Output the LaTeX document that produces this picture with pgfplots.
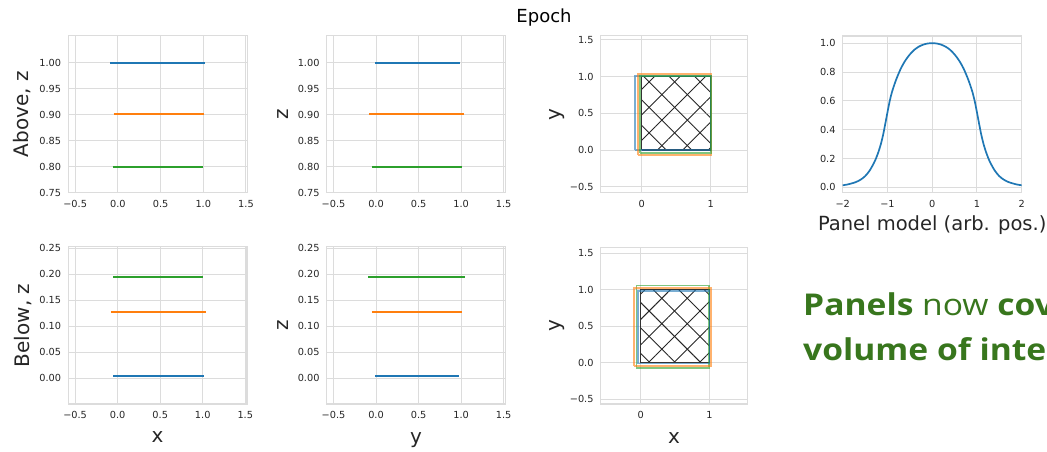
\documentclass[border=0pt]{standalone}
\usepackage{fontspec}
\setmainfont{DejaVu Sans}
\newfontfamily\slidefont[FakeStretch=1.12]{Open Sans}
\usepackage{pgfplots}
\pgfplotsset{compat=1.18}
\usetikzlibrary{patterns.meta}

\definecolor{tabblue}{HTML}{1F77B4}
\definecolor{taborange}{HTML}{FF7F0E}
\definecolor{tabgreen}{HTML}{2CA02C}
\definecolor{gridgray}{HTML}{DCDCDC}
\definecolor{labgray}{HTML}{262626}
\definecolor{slidegreen}{HTML}{38761D}

\pgfplotsset{
  panel/.style={
    scale only axis,
    anchor=south west,
    axis line style={draw=gridgray, line width=1.1pt},
    grid=major,
    major grid style={draw=gridgray, line width=1pt},
    major tick length=0pt,
    tick style={draw=none},
    ticklabel style={font=\fontsize{9.75}{11}\selectfont, text=labgray},
    xticklabel style={inner sep=0pt, anchor=north, yshift=-7pt},
    yticklabel style={inner sep=0pt, anchor=east, xshift=-7pt},
    label style={font=\fontsize{20}{24}\selectfont, text=labgray},
  },
  seg/.style={line width=2pt, no marks},
  linepanel/.style={
    panel,
    xmin=-0.58, xmax=1.52,
    xtick={-0.5,0,0.5,1,1.5},
    xticklabels={−0.5,0.0,0.5,1.0,1.5},
  },
  toppanel/.style={
    ymin=0.75, ymax=1.052,
    ytick={0.75,0.8,0.85,0.9,0.95,1.0},
    yticklabels={0.75,0.80,0.85,0.90,0.95,1.00},
  },
  botpanel/.style={
    ymin=-0.05, ymax=0.253,
    ytick={0,0.05,0.1,0.15,0.2,0.25},
    yticklabels={0.00,0.05,0.10,0.15,0.20,0.25},
  },
  sqpanel/.style={
    panel,
    xtick={0,1}, xticklabels={0,1},
    ytick={-0.5,0,0.5,1,1.5},
    yticklabels={−0.5,0.0,0.5,1.0,1.5},
  },
  rect/.style={line width=1.6pt, opacity=0.6, no marks},
}

\begin{document}
\begin{tikzpicture}
\useasboundingbox (0pt,0pt) rectangle (1047pt,451pt);
\clip (0pt,0pt) rectangle (1047pt,451pt);

\node[anchor=base, font=\fontsize{18}{21}\selectfont, text=black] at (544pt,428.5pt) {Epoch};

% ---------- top-left: Above, z vs x
\begin{axis}[linepanel, toppanel, at={(68.3pt,258.3pt)}, width=179.4pt, height=157pt,
  ylabel={Above, z}, ylabel style={at={(axis description cs:-0.255,0.5)}, anchor=center}]
\addplot[seg, tabblue] coordinates {(-0.09,1.0) (1.02,1.0)};
\addplot[seg, taborange] coordinates {(-0.05,0.901) (1.01,0.901)};
\addplot[seg, tabgreen] coordinates {(-0.06,0.80) (1.0,0.80)};
\end{axis}

% ---------- top-middle: z vs y
\begin{axis}[linepanel, toppanel, at={(326.7pt,258.3pt)}, width=178.6pt, height=157pt,
  ylabel={z}, ylabel style={at={(axis description cs:-0.247,0.5)}, anchor=center}]
\addplot[seg, tabblue] coordinates {(-0.01,1.0) (0.99,1.0)};
\addplot[seg, taborange] coordinates {(-0.08,0.901) (1.03,0.901)};
\addplot[seg, tabgreen] coordinates {(-0.05,0.80) (1.01,0.80)};
\end{axis}

% ---------- top third: y vs x squares
\begin{axis}[sqpanel, at={(600.7pt,258.3pt)}, width=146.6pt, height=157pt,
  xmin=-0.594, xmax=1.53, ymin=-0.58, ymax=1.555,
  ylabel={y}, ylabel style={at={(axis description cs:-0.30,0.5)}, anchor=center}]
\addplot[draw=none, pattern={Lines[angle=45, distance=18pt, line width=0.9pt]}, pattern color=black!85] coordinates {(0,0) (1,0) (1,1) (0,1) (0,0)};
\addplot[draw=none, pattern={Lines[angle=-45, distance=18pt, line width=0.9pt]}, pattern color=black!85] coordinates {(0,0) (1,0) (1,1) (0,1) (0,0)};
\addplot[line width=1.4pt, black!80, no marks] coordinates {(0,0) (1,0) (1,1) (0,1) (0,0)};
\addplot[rect, tabblue] coordinates {(-0.10,0.0) (1.0,0.0) (1.0,1.01) (-0.10,1.01) (-0.10,0.0)};
\addplot[rect, taborange] coordinates {(-0.05,-0.065) (1.01,-0.065) (1.01,1.035) (-0.05,1.035) (-0.05,-0.065)};
\addplot[rect, tabgreen] coordinates {(-0.025,-0.04) (1.0,-0.04) (1.0,1.01) (-0.025,1.01) (-0.025,-0.04)};
\end{axis}

% ---------- top-right: panel model
\begin{axis}[panel, at={(842.7pt,258.3pt)}, width=179pt, height=156.7pt,
  xmin=-2, xmax=2, ymin=-0.0375, ymax=1.05,
  xtick={-2,-1,0,1,2}, xticklabels={−2,−1,0,1,2},
  ytick={0,0.2,0.4,0.6,0.8,1.0}, yticklabels={0.0,0.2,0.4,0.6,0.8,1.0},
  xlabel={Panel model (arb. pos.)},
  xlabel style={font=\fontsize{19.5}{23}\selectfont, at={(axis description cs:0.5,-0.2425)}, anchor=base}]
\addplot[tabblue, line width=1.7pt, no marks, smooth] coordinates {
(-2.0,0.014) (-1.9,0.019) (-1.8,0.027) (-1.7,0.037) (-1.6,0.053) (-1.5,0.077)
(-1.4,0.115) (-1.3,0.170) (-1.25,0.205) (-1.2,0.247) (-1.15,0.297) (-1.1,0.360)
(-1.05,0.438) (-1.0,0.520) (-0.95,0.598) (-0.9,0.660) (-0.85,0.708) (-0.8,0.752)
(-0.7,0.825) (-0.6,0.880) (-0.5,0.922) (-0.4,0.954) (-0.3,0.976) (-0.2,0.990)
(-0.1,0.998) (0.0,1.0)
(0.1,0.998) (0.2,0.990) (0.3,0.976) (0.4,0.954) (0.5,0.922) (0.6,0.880)
(0.7,0.825) (0.8,0.752) (0.85,0.708) (0.9,0.660) (0.95,0.598) (1.0,0.520)
(1.05,0.438) (1.1,0.360) (1.15,0.297) (1.2,0.247) (1.25,0.205) (1.3,0.170)
(1.4,0.115) (1.5,0.077) (1.6,0.053) (1.7,0.037) (1.8,0.027) (1.9,0.019) (2.0,0.014)};
\end{axis}

% ---------- bottom-left: Below, z vs x
\begin{axis}[linepanel, botpanel, at={(68.3pt,47pt)}, width=178.7pt, height=157.3pt,
  ylabel={Below, z}, ylabel style={at={(axis description cs:-0.255,0.5)}, anchor=center},
  xlabel={x}, xlabel style={at={(axis description cs:0.5,-0.213)}, anchor=center}]
\addplot[seg, tabblue] coordinates {(-0.05,0.003) (1.02,0.003)};
\addplot[seg, taborange] coordinates {(-0.08,0.128) (1.04,0.128)};
\addplot[seg, tabgreen] coordinates {(-0.05,0.194) (1.0,0.194)};
\end{axis}

% ---------- bottom-middle: z vs y
\begin{axis}[linepanel, botpanel, at={(326.7pt,47pt)}, width=178.6pt, height=157.3pt,
  ylabel={z}, ylabel style={at={(axis description cs:-0.247,0.5)}, anchor=center},
  xlabel={y}, xlabel style={at={(axis description cs:0.5,-0.229)}, anchor=center}]
\addplot[seg, tabblue] coordinates {(-0.01,0.003) (0.97,0.003)};
\addplot[seg, taborange] coordinates {(-0.05,0.128) (1.01,0.128)};
\addplot[seg, tabgreen] coordinates {(-0.09,0.194) (1.05,0.194)};
\end{axis}

% ---------- bottom third: y vs x squares
\begin{axis}[sqpanel, at={(600.7pt,47pt)}, width=146.6pt, height=156.7pt,
  xmin=-0.58, xmax=1.55, ymin=-0.564, ymax=1.58,
  ylabel={y}, ylabel style={at={(axis description cs:-0.30,0.5)}, anchor=center},
  xlabel={x}, xlabel style={at={(axis description cs:0.5,-0.214)}, anchor=center}]
\addplot[draw=none, pattern={Lines[angle=45, distance=18pt, line width=0.9pt]}, pattern color=black!85] coordinates {(0,0) (1,0) (1,1) (0,1) (0,0)};
\addplot[draw=none, pattern={Lines[angle=-45, distance=18pt, line width=0.9pt]}, pattern color=black!85] coordinates {(0,0) (1,0) (1,1) (0,1) (0,0)};
\addplot[line width=1.4pt, black!80, no marks] coordinates {(0,0) (1,0) (1,1) (0,1) (0,0)};
\addplot[rect, tabgreen] coordinates {(-0.06,-0.07) (0.99,-0.07) (0.99,1.06) (-0.06,1.06) (-0.06,-0.07)};
\addplot[rect, taborange] coordinates {(-0.095,-0.045) (1.025,-0.045) (1.025,1.02) (-0.095,1.02) (-0.095,-0.045)};
\addplot[rect, tabblue] coordinates {(-0.04,-0.01) (1.0,-0.01) (1.0,0.985) (-0.04,0.985) (-0.04,-0.01)};
\end{axis}

% ---------- slide text
\node[anchor=base west, inner sep=0pt, font=\slidefont\fontsize{30}{36}\selectfont, text=slidegreen] at (803pt,136pt) {\textbf{Panels} now \textbf{cover the}};
\node[anchor=base west, inner sep=0pt, font=\slidefont\fontsize{30}{36}\selectfont, text=slidegreen] at (803pt,90.3pt) {\textbf{volume of interest}};
\end{tikzpicture}
\end{document}
